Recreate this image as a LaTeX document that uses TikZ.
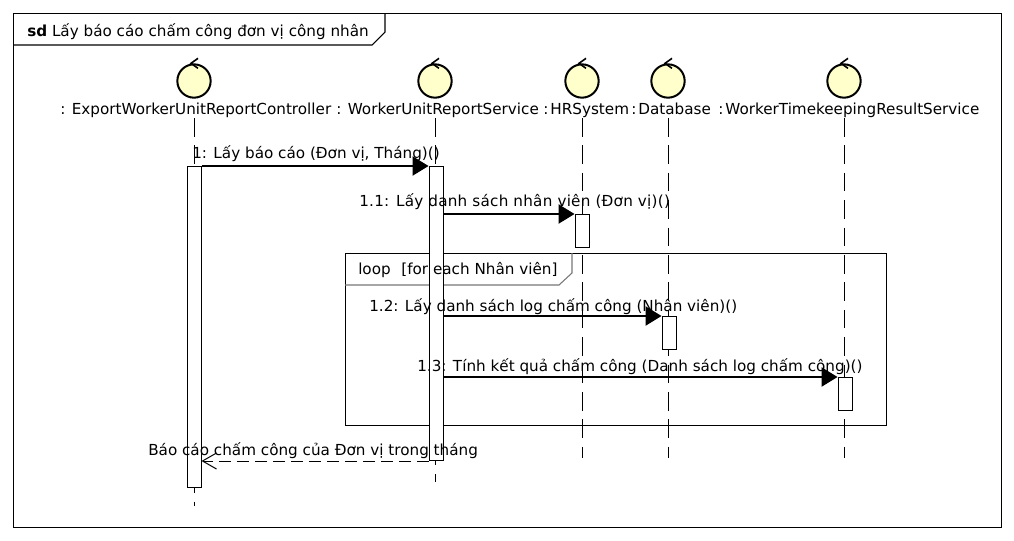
\documentclass[tikz,border=0pt]{standalone}
\usepackage{fontspec}
\setmainfont{DejaVu Sans}
\usepackage{xcolor}
\usetikzlibrary{calc,arrows.meta}
\definecolor{ctrlYellow}{HTML}{FFFFCC}
\definecolor{tabGrey}{HTML}{777777}
\tikzset{
  framebox/.style={draw=black, line width=0.8pt},
  tabline/.style={draw=#1, line width=0.8pt},
  ctrlhead/.style={circle, draw=black, fill=ctrlYellow, line width=1.5pt, minimum size=25pt, inner sep=0pt},
  ctrlbarb/.style={draw=black, line width=1.2pt},
  msglabel/.style={font=\fontsize{11.4}{14}\selectfont, inner sep=0pt, anchor=base west},
  lifeline/.style={draw=black, line width=0.75pt, dash pattern=on 14pt off 6.55pt},
  actbox/.style={rectangle, draw=black, fill=white, line width=0.75pt, minimum width=10.5pt, inner sep=0pt, anchor=north},
  syncmsg/.style={-{Triangle[length=12pt,width=14.5pt]}, line width=0.9pt, draw=black},
  replymsg/.style={-{Straight Barb[length=10.5pt,width=12pt]}, line width=0.75pt, draw=black, dash pattern=on 9pt off 4.5pt},
}
\begin{document}
\begin{tikzpicture}[x=0.75pt,y=-0.75pt]
  \useasboundingbox (0,0) rectangle (1014,540);
  % --- frames ---
  \node[framebox, rectangle, minimum width=741pt, minimum height=385.5pt, inner sep=0pt, anchor=north west] (sdFrame) at (13,13) {};
  \draw[framebox] (385,13) -- (385,32) -- (372,45) -- (13,45);
  \node[msglabel] (sdTitle) at (27,36) {\textbf{sd} Lấy báo cáo chấm công đơn vị công nhân};
  \node[framebox, rectangle, minimum width=405.75pt, minimum height=129pt, inner sep=0pt, anchor=north west] (loopFrame) at (345,253) {};
  \draw[tabline=tabGrey] (572,253) -- (572,273) -- (559,285) -- (345,285);
  % --- lifelines ---
  \foreach \nm/\xx/\yy in {Ctl/194/506, Svc/435/482, Hr/582/458, Db/668/458, Res/844/458} {
    \node[ctrlhead] (head\nm) at (\xx,81) {};
    \draw[ctrlbarb] ($(head\nm.north)+(4,-5)$) -- ($(head\nm.north)+(-3,0)$) -- ($(head\nm.north)+(4,5)$);
    \coordinate (top\nm) at (\xx,118);
    \coordinate (end\nm) at (\xx,\yy);
    \draw[lifeline] (top\nm) -- (end\nm);
  }
  \node[msglabel] (lblCtl) at (60,114) {: ExportWorkerUnitReportController};
  \node[msglabel] (lblSvc) at (336,114) {: WorkerUnitReportService};
  \node[msglabel] (lblHr) at (543,114) {:\hspace{1.5pt}HRSystem};
  \node[msglabel] (lblDb) at (631,114) {:\hspace{1.5pt}Database};
  \node[msglabel] (lblRes) at (718,114) {:\hspace{1.5pt}WorkerTimekeepingResultService};
  % --- activations ---
  \node[actbox, minimum height=241pt] (actCtl) at (194,166) {};
  \node[actbox, minimum height=220.5pt] (actSvc) at (436,166) {};
  \node[actbox, minimum height=24.75pt] (actHr) at (582,214) {};
  \node[actbox, minimum height=24.75pt] (actDb) at (669,316) {};
  \node[actbox, minimum height=24.75pt] (actRes) at (845,377) {};
  % --- messages ---
  \draw[syncmsg] (actCtl.north east) -- (actSvc.north west);
  \draw[syncmsg] (actSvc.east |- actHr.north) -- (actHr.north west);
  \draw[syncmsg] (actSvc.east |- actDb.north) -- (actDb.north west);
  \draw[syncmsg] (actSvc.east |- actRes.north) -- (actRes.north west);
  \draw[replymsg] (actSvc.south west) -- (actCtl.east |- actSvc.south);
  \node[msglabel] (loopTitle) at (358,274) {loop\hspace{8pt}[for each Nhân viên]};
  \node[msglabel] (msgOne) at (192,158) {1: Lấy báo cáo (Đơn vị, Tháng)()};
  \node[msglabel] (msgTwo) at (359,206) {\addfontfeature{LetterSpace=1.6}1.1: Lấy danh sách nhân viên (Đơn vị)()};
  \node[msglabel] (msgThree) at (369,311) {1.2: Lấy danh sách log chấm công (Nhân viên)()};
  \node[msglabel] (msgFour) at (417,371) {1.3: Tính kết quả chấm công (Danh sách log chấm công)()};
  \node[msglabel] (msgBack) at (148,455) {Báo cáo chấm công của Đơn vị trong tháng};
\end{tikzpicture}
\end{document}
